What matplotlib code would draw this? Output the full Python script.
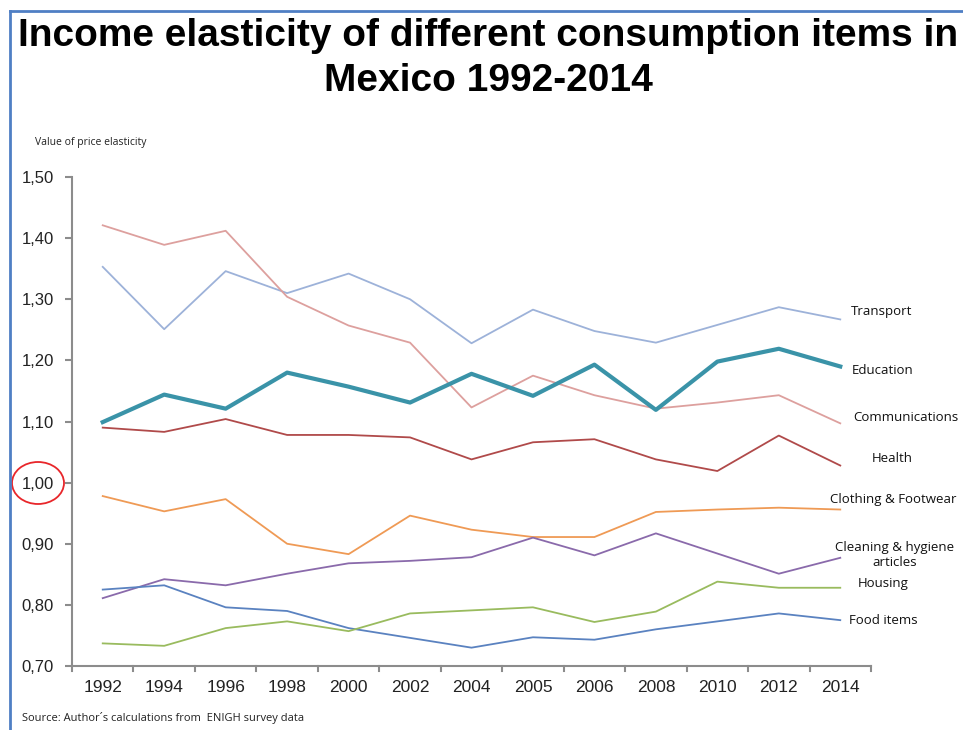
import matplotlib.pyplot as plt
from matplotlib.patches import Ellipse
from matplotlib.lines import Line2D

years = ["1992", "1994", "1996", "1998", "2000", "2002", "2004",
         "2005", "2006", "2008", "2010", "2012", "2014"]

transport = [1.353, 1.251, 1.346, 1.310, 1.342, 1.300, 1.228,
             1.283, 1.248, 1.229, 1.258, 1.287, 1.267]
communications = [1.421, 1.389, 1.412, 1.304, 1.257, 1.229, 1.123,
                  1.175, 1.143, 1.121, 1.131, 1.143, 1.097]
education = [1.099, 1.144, 1.121, 1.180, 1.157, 1.131, 1.178,
             1.142, 1.193, 1.119, 1.198, 1.219, 1.190]
health = [1.090, 1.083, 1.104, 1.078, 1.078, 1.074, 1.038,
          1.066, 1.071, 1.038, 1.019, 1.077, 1.028]
clothing = [0.978, 0.953, 0.973, 0.900, 0.883, 0.946, 0.923,
            0.911, 0.911, 0.952, 0.956, 0.959, 0.956]
cleaning = [0.811, 0.842, 0.832, 0.851, 0.868, 0.872, 0.878,
            0.910, 0.881, 0.917, 0.884, 0.851, 0.877]
food = [0.825, 0.832, 0.796, 0.790, 0.762, 0.746, 0.730,
        0.747, 0.743, 0.760, 0.773, 0.786, 0.775]
housing = [0.737, 0.733, 0.762, 0.773, 0.757, 0.786, 0.791,
           0.796, 0.772, 0.789, 0.838, 0.828, 0.828]

yticks = [0.70, 0.80, 0.90, 1.00, 1.10, 1.20, 1.30, 1.40, 1.50]

fig = plt.figure(figsize=(9.63, 7.30), dpi=100)
ax = fig.add_axes([72 / 963, 1 - 666 / 730, (871 - 72) / 963, (666 - 177) / 730])

x = range(len(years))
ax.plot(x, transport, color="#9db2d9", lw=1.3)
ax.plot(x, communications, color="#dda09e", lw=1.3)
ax.plot(x, health, color="#b04a4a", lw=1.3)
ax.plot(x, clothing, color="#ef9a55", lw=1.3)
ax.plot(x, cleaning, color="#8a6aab", lw=1.3)
ax.plot(x, food, color="#5a82c0", lw=1.3)
ax.plot(x, housing, color="#99bb5e", lw=1.3)
ax.plot(x, education, color="#3a93a8", lw=3.0)

ax.set_xlim(-0.5, len(years) - 0.5)
ax.set_ylim(0.70, 1.50)
ax.set_xticks(x)
ax.set_xticklabels(years, family="Liberation Sans")
ax.set_yticks(yticks)
ax.set_yticklabels([f"{v:.2f}".replace(".", ",") for v in yticks],
                   family="Liberation Sans")
ax.tick_params(axis="x", length=0, pad=10, labelsize=12.5, labelcolor="#222222")
ax.tick_params(axis="y", length=5, width=1.5, color="#8c8c8c", pad=8,
               labelsize=12, labelcolor="#222222")
for b in range(len(years) + 1):
    ax.add_line(Line2D([b - 0.5, b - 0.5], [0.70, 0.6925], color="#8c8c8c",
                       lw=1.5, clip_on=False))
for s in ["top", "right"]:
    ax.spines[s].set_visible(False)
for s in ["left", "bottom"]:
    ax.spines[s].set_color("#8c8c8c")
    ax.spines[s].set_linewidth(1.5)

# series names next to the last point
lab = dict(fontsize=9.5, family="Open Sans", color="#111111", transform=fig.transFigure)
fig.text(851 / 963, 1 - 311 / 730, "Transport", va="center", **lab)
fig.text(852 / 963, 1 - 371 / 730, "Education", va="center", **lab)
fig.text(853 / 963, 1 - 417 / 730, "Communications", va="center", **lab)
fig.text(872 / 963, 1 - 459 / 730, "Health", va="center", **lab)
fig.text(830 / 963, 1 - 499 / 730, "Clothing & Footwear", va="center", **lab)
fig.text(895 / 963, 1 - 555 / 730, "Cleaning & hygiene\narticles", va="center",
         ha="center", linespacing=1.3, **lab)
fig.text(858 / 963, 1 - 584 / 730, "Housing", va="center", **lab)
fig.text(849 / 963, 1 - 621 / 730, "Food items", va="center", **lab)

fig.text(488 / 963, 1 - 36 / 730,
         "Income elasticity of different consumption items in",
         ha="center", va="center", fontsize=28, fontweight="bold",
         family="Liberation Sans")
fig.text(488 / 963, 1 - 81 / 730, "Mexico 1992-2014",
         ha="center", va="center", fontsize=28, fontweight="bold",
         family="Liberation Sans")

fig.text(35 / 963, 1 - 143 / 730, "Value of price elasticity",
         va="center", fontsize=7.5, family="Open Sans", color="#222222")
fig.text(22 / 963, 1 - 718 / 730, "Source: Author\u00b4s calculations from  ENIGH survey data",
         va="center", fontsize=8, family="Open Sans", color="#222222")

# red ring around the unit elasticity tick
fig.add_artist(Ellipse((38 / 963, 1 - 483 / 730), 52 / 963, 42 / 730,
                       transform=fig.transFigure, fill=False,
                       edgecolor="#e8262a", lw=1.3))

# blue frame on the left and top
fig.add_artist(Line2D([10 / 963, 10 / 963], [0, 1 - 11 / 730],
                      transform=fig.transFigure, color="#4f7fc4", lw=2))
fig.add_artist(Line2D([10 / 963, 1], [1 - 11 / 730, 1 - 11 / 730],
                      transform=fig.transFigure, color="#4f7fc4", lw=2))

fig.savefig("out.png", dpi=100)
